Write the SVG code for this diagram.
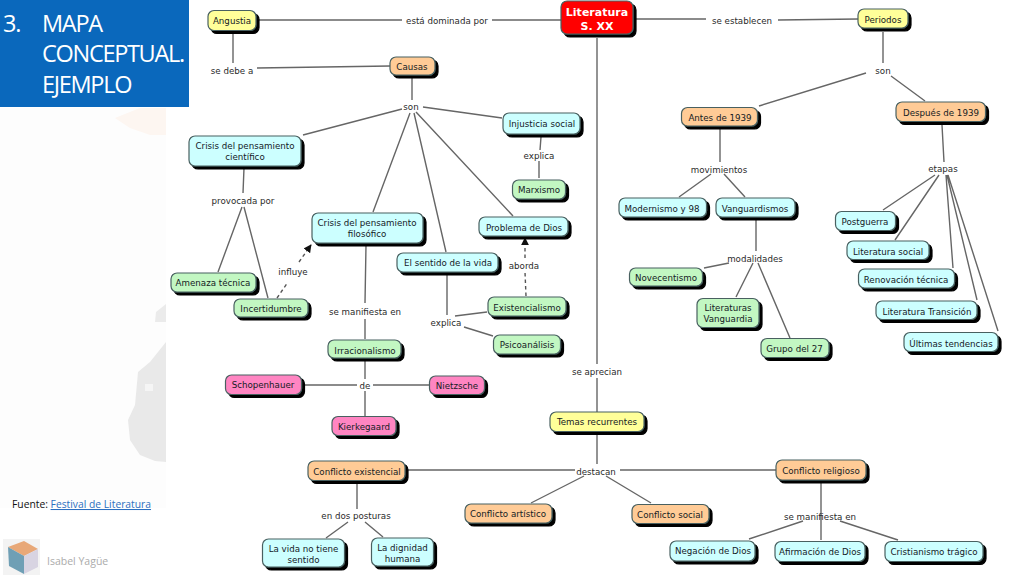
<svg xmlns="http://www.w3.org/2000/svg" width="1024" height="576" viewBox="0 0 1024 576">
<style>
.n{stroke:#486060;stroke-width:1.2;filter:url(#sh)}
.c{fill:#ccffff}.g{fill:#c2f7c2}.y{fill:#ffff99}.o{fill:#ffcb96}.p{fill:#ff85c2}
.t,.l{font-family:"DejaVu Sans",Verdana,sans-serif;font-size:8.7px;text-anchor:middle}
.t{fill:#14201f}.l{fill:#2a2a2a}
.w{font-family:"DejaVu Sans",Verdana,sans-serif;font-size:11px;font-weight:bold;text-anchor:middle;fill:#fff}
.k{fill:none;stroke:#666;stroke-width:1.4}
.d{fill:none;stroke:#555;stroke-width:1.4;stroke-dasharray:3.5 3}
.h{font-family:"Open Sans","Noto Sans",sans-serif;font-size:23.5px;font-weight:500;fill:#fff;letter-spacing:-1.3px}
.f{font-family:"Open Sans","Noto Sans",sans-serif;font-size:10.3px}
</style>
<defs>
<filter id="sh" x="-10%" y="-10%" width="120%" height="140%"><feDropShadow dx="3" dy="3" stdDeviation="0.3" flood-color="#000"/></filter>
<marker id="a" viewBox="0 0 10 10" refX="9" refY="5" markerWidth="8" markerHeight="8" markerUnits="userSpaceOnUse" orient="auto"><path d="M0 0L10 5L0 10z" fill="#111"/></marker>
</defs>
<rect width="1024" height="576" fill="#fff"/>
<g id="background">
<rect x="0" y="108" width="166" height="400" fill="#fdfdfd"/>
<polygon points="115,118 140,108 166,108 166,135 150,135 130,128" fill="#fdf6f1"/>
<polygon points="155,322 156,312 166,304 166,322" fill="#ebebeb"/>
<path d="M166,342L150,362L138,372L135,405L128,420L130,440L140,455L155,461L166,462z" fill="#e9e9e9"/>
<rect x="145" y="384" width="8" height="7" fill="#f5f5f5"/>
</g>
<g id="title">
<rect x="0" y="0" width="189" height="107" fill="#0a68bc"/>
<text class="h" x="3" y="32">3.</text>
<text class="h" x="42" y="32">MAPA</text>
<text class="h" x="42" y="62">CONCEPTUAL.</text>
<text class="h" x="42" y="93">EJEMPLO</text>
</g>
<g id="footer">
<text class="f" x="12" y="508" fill="#111">Fuente: <tspan fill="#2c6fc0" text-decoration="underline">Festival de Literatura</tspan></text>
<g id="logo">
<rect x="3" y="539" width="37" height="36" fill="#f3f3f3"/>
<polygon points="8,547 24,541 38,549 24,556" fill="#e8a878"/>
<polygon points="8,547 24,556 24,574 9,566" fill="#6f9fb5"/>
<polygon points="24,556 38,549 38,567 24,574" fill="#d8d4e2"/>
</g>
<text x="47" y="565" font-family="Open Sans,Noto Sans,sans-serif" font-size="10.5" fill="#ababab">Isabel Yagüe</text>
</g>
<g id="connectors">
<path class="k" d="M259,20H402M492,20H561M635,19H706M778,20L858,19M233,32V63M257,68L390,66M412,77V100M402,109L303,135M410,113L373,212M414,113L446,252M416,112L513,216M423,107L502,118M541,137L540,150M539,161V178M244,168L243,193M242,207L218,272M244,207L268,298M366,245L365,303M365,319V339M365,361V379M365,391V416M304,385H357M373,385H429M447,274V315M455,316L487,312M464,327L493,336M597,38V364M597,378V412M597,434V464M408,470H575M620,470H776M584,476L531,503M606,476L651,503M357,483V509M348,522L326,538M365,522L383,537M821,482V540M803,521L749,539M840,521L898,540M883,32V63M866,73L759,106M891,76L925,101M720,128V162M711,174L679,197M724,174L745,197M756,220V251M729,263L704,268M753,263L736,297M758,263L790,338M942,125L944,162M935,175L883,210M939,175L895,240M946,175L953,268M947,175L977,300M948,175L998,331"/>
<path class="d" d="M277,298L288,282"/>
<path class="d" d="M299,262L311,245" marker-end="url(#a)"/>
<path class="d" d="M526,296L525,272"/>
<path class="d" d="M525,258V238" marker-end="url(#a)"/>
</g>
<g id="link-labels">
<text class="l" x="447" y="23.5">está dominada por</text>
<text class="l" x="742" y="23.5">se establecen</text>
<text class="l" x="232" y="73.5">se debe a</text>
<text class="l" x="411" y="109.5">son</text>
<text class="l" x="539" y="158.5">explica</text>
<text class="l" x="243" y="203.5">provocada por</text>
<text class="l" x="293" y="275">influye</text>
<text class="l" x="365" y="314.5">se manifiesta en</text>
<text class="l" x="365" y="388.5">de</text>
<text class="l" x="446" y="325.5">explica</text>
<text class="l" x="524" y="268.5">aborda</text>
<text class="l" x="597" y="374.5">se aprecian</text>
<text class="l" x="596" y="474.5">destacan</text>
<text class="l" x="356" y="518.5">en dos posturas</text>
<text class="l" x="820" y="519.5">se manifiesta en</text>
<text class="l" x="883" y="73.5">son</text>
<text class="l" x="719" y="172.5">movimientos</text>
<text class="l" x="755" y="261.5">modalidades</text>
<text class="l" x="943" y="171.5">etapas</text>
</g>
<g id="n-angustia"><rect class="n y" x="208" y="10.500" width="48" height="20" rx="6"/><text class="t" x="232" y="23.500">Angustia</text></g>
<g id="n-literatura"><rect class="n" fill="#ff0000" x="561" y="1" width="72" height="33" rx="6"/><text class="w" x="597" y="16">Literatura</text><text class="w" x="597" y="30">S. XX</text></g>
<g id="n-periodos"><rect class="n y" x="858" y="9" width="50" height="19" rx="6"/><text class="t" x="883" y="22.500">Periodos</text></g>
<g id="n-causas"><rect class="n o" x="390" y="57" width="45" height="18" rx="6"/><text class="t" x="412" y="70">Causas</text></g>
<g id="n-injusticia"><rect class="n c" x="503" y="113" width="77" height="21" rx="6"/><text class="t" x="542" y="127">Injusticia social</text></g>
<g id="n-cientifico"><rect class="n c" x="189" y="136" width="112" height="30" rx="6"/><text class="t" x="245" y="149">Crisis del pensamiento</text><text class="t" x="245" y="160">científico</text></g>
<g id="n-marxismo"><rect class="n g" x="512.500" y="180" width="53" height="19" rx="6"/><text class="t" x="539" y="193">Marxismo</text></g>
<g id="n-filosofico"><rect class="n c" x="312" y="213" width="111" height="30" rx="6"/><text class="t" x="367" y="226">Crisis del pensamiento</text><text class="t" x="367" y="237">filosófico</text></g>
<g id="n-dios"><rect class="n c" x="479" y="217" width="89" height="19" rx="6"/><text class="t" x="524" y="231">Problema de Dios</text></g>
<g id="n-sentido"><rect class="n c" x="397" y="253" width="101" height="19" rx="6"/><text class="t" x="448" y="266">El sentido de la vida</text></g>
<g id="n-amenaza"><rect class="n g" x="171" y="273" width="85" height="19" rx="6"/><text class="t" x="213" y="286">Amenaza técnica</text></g>
<g id="n-incertidumbre"><rect class="n g" x="234" y="299" width="74" height="18" rx="6"/><text class="t" x="271" y="312">Incertidumbre</text></g>
<g id="n-existencialismo"><rect class="n g" x="488" y="297" width="78" height="19" rx="6"/><text class="t" x="527" y="311">Existencialismo</text></g>
<g id="n-psicoanalisis"><rect class="n g" x="493.500" y="335" width="67" height="19" rx="6"/><text class="t" x="527" y="348">Psicoanálisis</text></g>
<g id="n-irracionalismo"><rect class="n g" x="328" y="340" width="73" height="18" rx="6"/><text class="t" x="365" y="354">Irracionalismo</text></g>
<g id="n-schopenhauer"><rect class="n p" x="225.500" y="375" width="76" height="19.500" rx="6"/><text class="t" x="263" y="388">Schopenhauer</text></g>
<g id="n-nietzsche"><rect class="n p" x="429.500" y="376" width="55" height="18.500" rx="6"/><text class="t" x="457" y="389">Nietzsche</text></g>
<g id="n-kierkegaard"><rect class="n p" x="332" y="416.500" width="64" height="19" rx="6"/><text class="t" x="364" y="429.500">Kierkegaard</text></g>
<g id="n-temas"><rect class="n y" x="550" y="412" width="94" height="19.500" rx="6"/><text class="t" x="597" y="425">Temas recurrentes</text></g>
<g id="n-existencial"><rect class="n o" x="308" y="461" width="97" height="19.500" rx="6"/><text class="t" x="357" y="474.500">Conflicto existencial</text></g>
<g id="n-religioso"><rect class="n o" x="776" y="460" width="90" height="20" rx="6"/><text class="t" x="821" y="473.500">Conflicto religioso</text></g>
<g id="n-artistico"><rect class="n o" x="465" y="504" width="87" height="19" rx="6"/><text class="t" x="508" y="517">Conflicto artístico</text></g>
<g id="n-social"><rect class="n o" x="632" y="504.500" width="77" height="19" rx="6"/><text class="t" x="670" y="518">Conflicto social</text></g>
<g id="n-vida"><rect class="n c" x="262.500" y="539" width="82" height="28" rx="6"/><text class="t" x="303.500" y="552">La vida no tiene</text><text class="t" x="303.500" y="563">sentido</text></g>
<g id="n-dignidad"><rect class="n c" x="371.500" y="538" width="62" height="28" rx="6"/><text class="t" x="402.500" y="551">La dignidad</text><text class="t" x="402.500" y="562">humana</text></g>
<g id="n-negacion"><rect class="n c" x="670" y="541" width="85" height="20" rx="6"/><text class="t" x="713" y="554">Negación de Dios</text></g>
<g id="n-afirmacion"><rect class="n c" x="775" y="541.500" width="90" height="20" rx="6"/><text class="t" x="820" y="555">Afirmación de Dios</text></g>
<g id="n-cristianismo"><rect class="n c" x="885" y="541.500" width="98" height="20" rx="6"/><text class="t" x="934" y="555">Cristianismo trágico</text></g>
<g id="n-antes"><rect class="n o" x="681.500" y="107.500" width="76" height="18.500" rx="6"/><text class="t" x="720" y="121">Antes de 1939</text></g>
<g id="n-despues"><rect class="n o" x="896" y="102" width="89.500" height="19.500" rx="6"/><text class="t" x="941" y="116">Después de 1939</text></g>
<g id="n-modernismo"><rect class="n c" x="619" y="198" width="87.500" height="19" rx="6"/><text class="t" x="662" y="211.500">Modernismo y 98</text></g>
<g id="n-vanguardismos"><rect class="n c" x="716" y="198" width="79" height="19" rx="6"/><text class="t" x="755" y="211.500">Vanguardismos</text></g>
<g id="n-novecentismo"><rect class="n g" x="629.500" y="268" width="73" height="18" rx="6"/><text class="t" x="666" y="281">Novecentismo</text></g>
<g id="n-litvanguardia"><rect class="n g" x="697" y="298.500" width="62" height="29" rx="6"/><text class="t" x="728" y="311">Literaturas</text><text class="t" x="728" y="322">Vanguardia</text></g>
<g id="n-grupo"><rect class="n g" x="761" y="338.500" width="68" height="19" rx="6"/><text class="t" x="794.500" y="352">Grupo del 27</text></g>
<g id="n-postguerra"><rect class="n c" x="835.500" y="211.500" width="60" height="19" rx="6"/><text class="t" x="865" y="225">Postguerra</text></g>
<g id="n-litsocial"><rect class="n c" x="847" y="241" width="82" height="18.500" rx="6"/><text class="t" x="888" y="254.500">Literatura social</text></g>
<g id="n-renovacion"><rect class="n c" x="858.500" y="269" width="96" height="19" rx="6"/><text class="t" x="906" y="282.500">Renovación técnica</text></g>
<g id="n-transicion"><rect class="n c" x="876" y="301" width="101" height="18.500" rx="6"/><text class="t" x="927" y="314.500">Literatura Transición</text></g>
<g id="n-ultimas"><rect class="n c" x="904" y="332.500" width="94" height="19" rx="6"/><text class="t" x="951" y="346.500">Últimas tendencias</text></g>
</svg>
